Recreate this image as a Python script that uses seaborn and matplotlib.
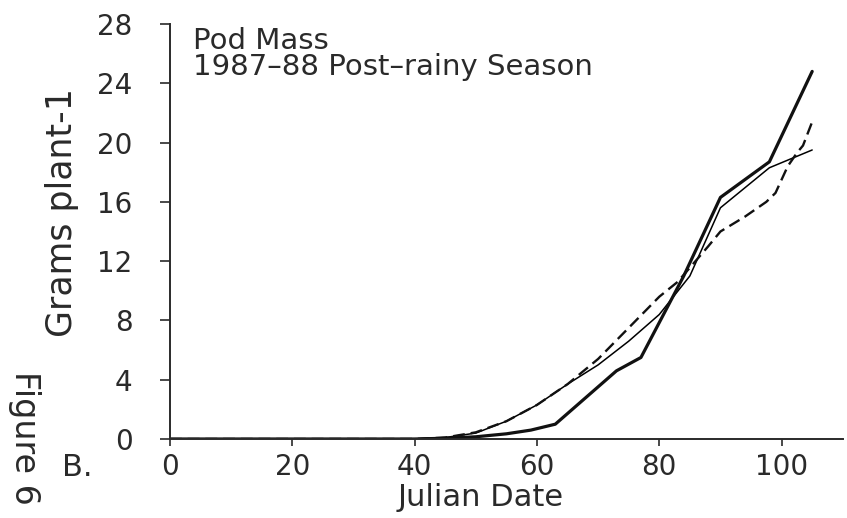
import matplotlib
matplotlib.use("Agg")
import matplotlib.pyplot as plt
import seaborn as sns
import pandas as pd

# Pod mass (g per plant) against Julian date, 1987-88 post-rainy season
days_thick = [0, 40, 45, 50, 55, 59, 63, 68, 73, 77, 84, 90, 98, 105]
mass_thick = [0, 0, 0.05, 0.15, 0.35, 0.6, 1.0, 2.8, 4.6, 5.5, 11.0, 16.3, 18.7, 24.8]

days_thin = [0, 40, 45, 50, 55, 60, 65, 70, 75, 80, 85, 90, 98, 105]
mass_thin = [0, 0, 0.1, 0.4, 1.2, 2.3, 3.7, 5.0, 6.6, 8.4, 11.0, 15.6, 18.3, 19.5]

days_dash = [0, 40, 45, 50, 55, 60, 65, 70, 75, 80, 83, 88, 90, 94, 97.5, 99, 101, 102.5, 103.5, 105]
mass_dash = [0, 0, 0.1, 0.45, 1.2, 2.3, 3.7, 5.4, 7.5, 9.6, 10.6, 13.0, 14.0, 15.0, 16.0, 16.6, 18.4, 19.3, 19.8, 21.4]

x_ticks = [0, 20, 40, 60, 80, 100]
y_ticks = [0, 4, 8, 12, 16, 20, 24, 28]

sns.set_style("ticks")
plt.rcParams["font.family"] = ["DejaVu Sans"]

ink = "#2a2a2a"

fig = plt.figure(figsize=(8.47, 5.18), dpi=100)
ax = fig.add_axes([0.2007, 0.1525, 0.7943, 0.8012])

thick = pd.DataFrame({"day": days_thick, "mass": mass_thick})
thin = pd.DataFrame({"day": days_thin, "mass": mass_thin})
dash = pd.DataFrame({"day": days_dash, "mass": mass_dash})

sns.lineplot(data=thin, x="day", y="mass", ax=ax, color="black", linewidth=1.1)
sns.lineplot(data=dash, x="day", y="mass", ax=ax, color="#111111", linewidth=1.7,
             dashes=False, linestyle=(0, (5, 2.5)))
sns.lineplot(data=thick, x="day", y="mass", ax=ax, color="#111111", linewidth=2.3)

ax.set_xlim(0, 110)
ax.set_ylim(0, 28)
ax.set_xticks(x_ticks)
ax.set_yticks(y_ticks)
ax.set_xticklabels([str(v) for v in x_ticks], fontsize=20)
ax.set_yticklabels([str(v) for v in y_ticks], fontsize=20)
ax.tick_params(axis="y", direction="out", length=7, width=1.2, pad=20, colors=ink)
ax.tick_params(axis="x", direction="out", length=5, width=1.2, pad=5, colors=ink)

for side in ("top", "right"):
    ax.spines[side].set_visible(False)
for side in ("left", "bottom"):
    ax.spines[side].set_linewidth(1.4)
    ax.spines[side].set_color(ink)

ax.set_xlabel("")
ax.set_ylabel("")
fig.text(0.567, 0.040, "Julian Date", ha="center", va="center", fontsize=22, color=ink)
fig.text(0.073, 0.589, "Grams plant-1", ha="center", va="center", rotation=90,
         fontsize=25, color=ink)
fig.text(0.029, 0.155, "Figure 6", ha="center", va="center", rotation=270,
         fontsize=24, color=ink)
fig.text(0.091, 0.097, "B.", ha="center", va="center", fontsize=22, color=ink)

fig.text(0.228, 1 - 27 / 518, "Pod Mass\n1987\u201388 Post\u2013rainy Season",
         ha="left", va="top", fontsize=21, color=ink, linespacing=0.9)

fig.savefig("out.png", dpi=100, facecolor="white")
